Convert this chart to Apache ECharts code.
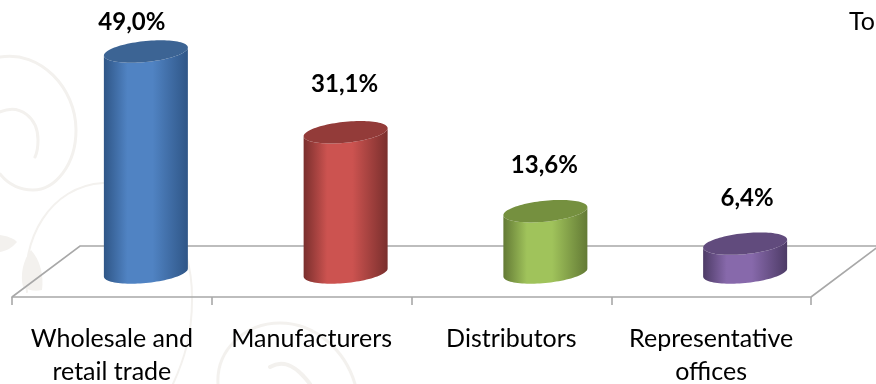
<!DOCTYPE html>
<html>
<head>
<meta charset="utf-8">
<style>
  html, body { margin: 0; padding: 0; background: #fff; overflow: hidden; }
  #chart { width: 876px; height: 384px; }
</style>
<script src="https://cdn.jsdelivr.net/npm/echarts@6/dist/echarts.min.js"></script>
</head>
<body>
<div id="chart"></div>
<script>
// Share of companies by type of activity
const categories = ['Wholesale and\nretail trade', 'Manufacturers', 'Distributors', 'Representative\noffices'];
const shares = [49.0, 31.1, 13.6, 6.4];
const shareLabels = ['49,0%', '31,1%', '13,6%', '6,4%'];

// Cylinder shades: side edge, side centre, top cap
const palettes = [
  ['#2f5687', '#5083c3', '#3c6494'],
  ['#7a2f2d', '#cc5350', '#933b39'],
  ['#637a35', '#a0c35b', '#75903f'],
  ['#4d3b66', '#8769ab', '#614b7d']
];

// Label placement relative to each cylinder's top: [dx, dy]
const labelOffsets = [[-14, -29], [-1, -48], [-1, -46], [2, -45]];

const FONT = 'Lato, "Open Sans", sans-serif';
const FLOOR_DX = 68, FLOOR_DY = -51;   // oblique depth of the floor
const BAR_DX = 34, BAR_DY = -24.5;     // cylinders stand midway across the floor
const BAR_RX = 42, BAR_RY = 10.5, BAR_SKEW = 4;

// Point on the skewed ellipse used for the cylinder's caps
function rim(cx, cy, t) {
  return [cx + BAR_RX * Math.cos(t), cy - BAR_SKEW * Math.cos(t) + BAR_RY * Math.sin(t)];
}

function renderFloor(params, api) {
  const band = api.size([1, 0])[0];
  const a = api.coord([0, 0]);
  const b = api.coord([categories.length - 1, 0]);
  const x0 = a[0] - band / 2, x1 = b[0] + band / 2, y = a[1];
  return {
    type: 'polyline',
    shape: { points: [
      [x0, y],
      [x0 + FLOOR_DX, y + FLOOR_DY],
      [x1 + FLOOR_DX, y + FLOOR_DY],
      [x1, y]
    ] },
    style: { fill: null, stroke: '#a8a8a8', lineWidth: 1.6 }
  };
}

function renderCylinder(params, api) {
  const i = params.dataIndex;
  const base = api.coord([i, 0]);
  const top = api.coord([i, api.value(1)]);
  const cx = base[0] + BAR_DX;
  const yBase = base[1] + BAR_DY;
  const yTop = top[1] + BAR_DY;
  const [edge, mid, cap] = palettes[i];
  const N = 48;

  const side = [];
  for (let k = 0; k <= N; k++) side.push(rim(cx, yBase, Math.PI - Math.PI * k / N));
  for (let k = 0; k <= N; k++) side.push(rim(cx, yTop, Math.PI * k / N));

  const lid = [];
  for (let k = 0; k < N * 2; k++) lid.push(rim(cx, yTop, Math.PI * k / N));

  return {
    type: 'group',
    children: [
      {
        type: 'polygon',
        shape: { points: side },
        style: {
          fill: new echarts.graphic.LinearGradient(0, 0, 1, 0, [
            { offset: 0, color: edge },
            { offset: 0.28, color: mid },
            { offset: 0.58, color: mid },
            { offset: 1, color: edge }
          ])
        }
      },
      { type: 'polygon', shape: { points: lid }, style: { fill: cap } },
      {
        type: 'text',
        style: {
          text: shareLabels[i],
          x: cx + labelOffsets[i][0],
          y: yTop + labelOffsets[i][1],
          align: 'center',
          verticalAlign: 'middle',
          fill: '#000',
          font: 'bold 24px ' + FONT
        }
      }
    ]
  };
}

// Faint swirl ornament behind the chart
const swirlStroke = { fill: null, stroke: '#f3f1ee', lineCap: 'round' };
const swirlFill = { fill: '#f3f1ee' };
const ornament = [
  ['M0 57 C40 50 76 88 76 130 C76 165 55 190 33 190 C20 190 8 184 0 174', 3, swirlStroke],
  ['M0 112 C20 103 38 118 38 140 C38 148 37 153 35 157', 3, swirlStroke],
  ['M27 292 C20 240 50 186 103 183 C160 182 193 240 192 300 C192 335 184 360 173 384', 2, swirlStroke],
  ['M218 384 C216 350 245 323 280 323 C315 323 345 350 355 384', 3, swirlStroke],
  ['M270 367 C285 358 298 368 310 384', 4, swirlStroke],
  ['M0 235 C7 236 13 238 17 242 C12 248 6 251 0 252 Z', 0, swirlFill],
  ['M31 250 C40 260 44 275 42 290 C35 292 28 290 23 287 C20 275 23 260 31 250 Z', 0, swirlFill]
];

function renderOrnament() {
  return {
    type: 'group',
    children: ornament.map(([pathData, lineWidth, base]) => ({
      type: 'path',
      shape: { pathData },
      style: Object.assign({ lineWidth }, base)
    }))
  };
}

const chart = echarts.init(document.getElementById('chart'), null, { renderer: 'canvas' });
chart.setOption({
  animation: false,
  backgroundColor: '#ffffff',
  grid: { left: 12, width: 799, top: 26.4, height: 270.6, outerBoundsMode: 'none' },
  xAxis: {
    type: 'category',
    data: categories,
    z: 2,
    axisLine: { show: true, lineStyle: { color: '#a8a8a8', width: 1.6 } },
    axisTick: { show: true, length: 8, lineStyle: { color: '#a8a8a8', width: 1.6 } },
    axisLabel: {
      color: '#000',
      fontFamily: FONT,
      fontSize: 25,
      lineHeight: 33,
      margin: 25,
      interval: 0
    }
  },
  yAxis: { type: 'value', min: 0, max: 60, show: false },
  graphic: { elements: [{
    type: 'text',
    left: 849,
    top: 9,
    style: { text: 'To', fill: '#000', font: '25px ' + FONT }
  }] },
  series: [
    {
      type: 'custom',
      coordinateSystem: 'none',
      z: 0,
      silent: true,
      data: [[0]],
      renderItem: renderOrnament
    },
    {
      type: 'custom',
      coordinateSystem: 'cartesian2d',
      clip: false,
      z: 1,
      silent: true,
      data: [[0, 0]],
      encode: { x: 0, y: 1 },
      renderItem: renderFloor
    },
    {
      type: 'custom',
      coordinateSystem: 'cartesian2d',
      clip: false,
      z: 3,
      silent: true,
      data: shares.map((v, i) => [i, v]),
      encode: { x: 0, y: 1 },
      renderItem: renderCylinder
    }
  ]
});
</script>
</body>
</html>
